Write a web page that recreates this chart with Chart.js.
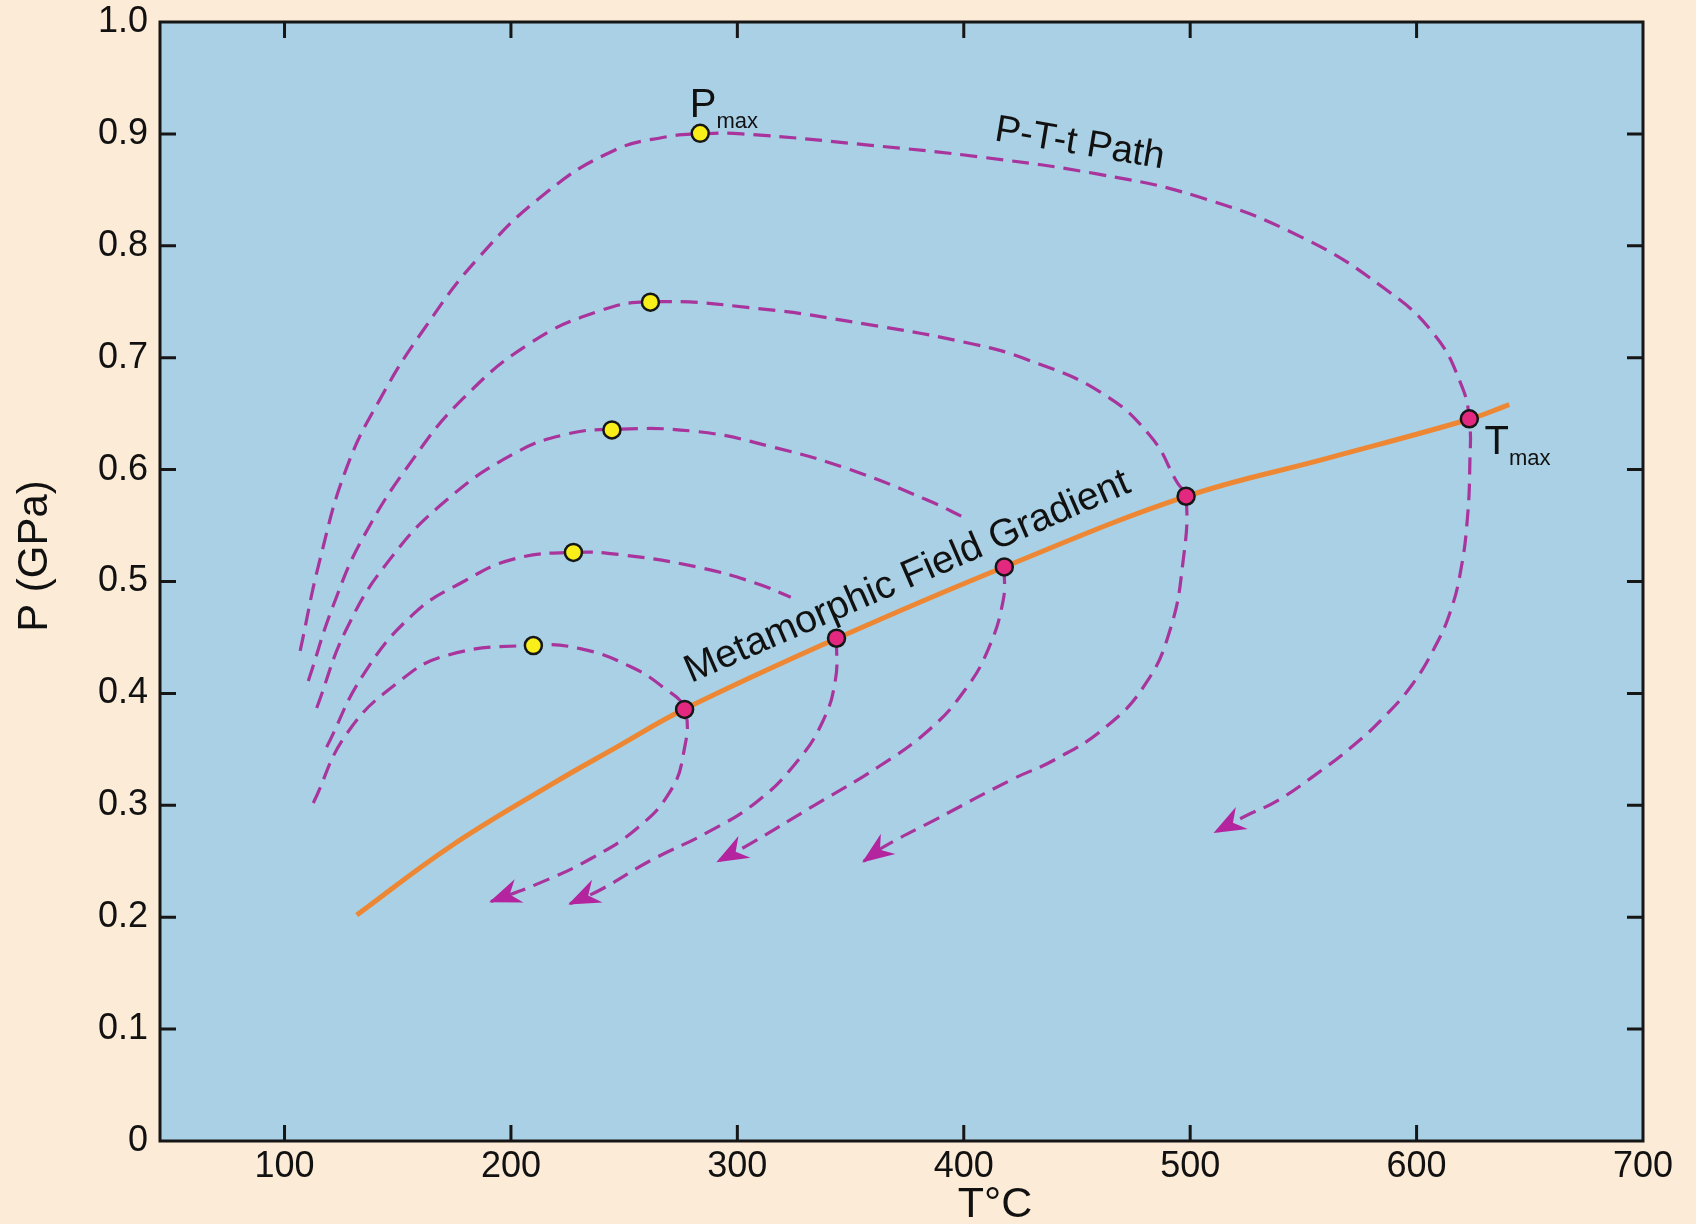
<!DOCTYPE html>
<html><head><meta charset="utf-8">
<script src="https://cdn.jsdelivr.net/npm/chart.js@4.4.1/dist/chart.umd.min.js"></script>
<style>html,body{margin:0;padding:0;background:#FCEBD6;overflow:hidden}#wrap{width:1696px;height:1224px}</style>
</head><body><div id="wrap"><canvas id="c" width="1696" height="1224"></canvas></div>
<script>
// ---- tick labels ----
const xTicks = [100, 200, 300, 400, 500, 600, 700];
const yTicks = [0, 0.1, 0.2, 0.3, 0.4, 0.5, 0.6, 0.7, 0.8, 0.9, 1.0];
const yTickLabels = ['0', '0.1', '0.2', '0.3', '0.4', '0.5', '0.6', '0.7', '0.8', '0.9', '1.0'];

// ---- metamorphic field gradient (orange) ----
const gradientT = [131.9, 173.1, 217.3, 246.7, 276.7, 343.8, 417.9, 498.2, 560.4, 623.3, 640.9];
const gradientP = [0.202, 0.263, 0.318, 0.352, 0.386, 0.449, 0.513, 0.576, 0.610, 0.645, 0.658];

// ---- P-T-t paths (dashed); null = break in the path ----
const pathA_T = [106.9, 115.7, 127.5, 142.2, 161.4, 186.4, 215.9, 245.3, 267.5, 283.6, 302.0, 357.9, 408.6, 459.4, 503.3, 548.9, 585.7, 607.7, 619.7, 623.3, 623.5, 622.5, 619.7, 614.9, 607.7, 598.1, 586.2, 571.8, 555.1, 538.4, 524.0, 511.1];
const pathA_P = [0.438, 0.520, 0.602, 0.663, 0.725, 0.791, 0.848, 0.885, 0.897, 0.900, 0.900, 0.890, 0.879, 0.864, 0.844, 0.808, 0.762, 0.721, 0.676, 0.645, 0.604, 0.558, 0.512, 0.473, 0.440, 0.408, 0.380, 0.353, 0.327, 0.304, 0.290, 0.276];

const pathB_T = [110.5, 121.6, 134.9, 157.0, 179.1, 208.5, 238.0, 261.6, 308.9, 356.7, 404.5, 428.4, 460.5, 482.4, 494.4, 498.2, 496.8, 491.0, 480.1, 462.8, 440.4, 421.2, 387.3, 364.8, 355.8];
const pathB_P = [0.411, 0.479, 0.540, 0.610, 0.664, 0.713, 0.741, 0.750, 0.744, 0.730, 0.712, 0.698, 0.669, 0.630, 0.588, 0.576, 0.517, 0.456, 0.408, 0.370, 0.341, 0.323, 0.287, 0.263, 0.250];

const pathC_T = [114.2, 127.5, 146.6, 171.7, 201.1, 223.2, 244.6, 282.1, 315.9, 349.8, 383.6, 401.4, null, 417.9, 417.4, 410.7, 400.5, 385.0, 362.0, 334.0, 306.0, 291.5];
const pathC_P = [0.387, 0.458, 0.520, 0.573, 0.614, 0.631, 0.636, 0.634, 0.620, 0.600, 0.573, 0.556, null, 0.513, 0.483, 0.439, 0.403, 0.368, 0.334, 0.300, 0.266, 0.250];

const pathD_T = [118.6, 134.9, 157.0, 179.1, 201.1, 227.6, 248.2, 282.1, 307.5, 323.6, null, 343.8, 343.3, 337.5, 325.5, 308.5, 287.0, 262.0, 240.0, 226.1];
const pathD_P = [0.352, 0.417, 0.471, 0.500, 0.520, 0.526, 0.524, 0.513, 0.499, 0.486, null, 0.449, 0.412, 0.374, 0.337, 0.303, 0.276, 0.251, 0.225, 0.212];

const pathE_T = [112.7, 127.5, 149.6, 171.7, 209.9, 230.6, 252.7, 267.5, 276.7, 276.2, 270.2, 256.0, 235.0, 212.0, 191.2];
const pathE_P = [0.302, 0.364, 0.409, 0.434, 0.443, 0.440, 0.424, 0.405, 0.386, 0.346, 0.312, 0.280, 0.252, 0.230, 0.214];

// ---- markers ----
const pmaxT = [283.6, 261.6, 244.6, 227.6, 209.9];
const pmaxP = [0.9005, 0.7496, 0.6355, 0.526, 0.4428];
const tmaxT = [623.3, 498.2, 417.9, 343.8, 276.7];
const tmaxP = [0.6454, 0.5762, 0.513, 0.4493, 0.3857];

const FONT = "'Liberation Sans', Arial, Helvetica, sans-serif";
const DASH_COLOR = '#A8349C';
const ARROW_COLOR = '#B3249E';

function pts(T, P) { return T.map((t, i) => ({ x: t, y: P[i] })); }

const pathSets = [[pathA_T, pathA_P], [pathB_T, pathB_P], [pathC_T, pathC_P], [pathD_T, pathD_P], [pathE_T, pathE_P]];

const datasets = [];
datasets.push({ label: 'Pmax', data: pts(pmaxT, pmaxP), pointRadius: 8.5, pointBackgroundColor: '#F7EE1A', pointBorderColor: '#161616', pointBorderWidth: 2.5, showLine: false, order: 0 });
datasets.push({ label: 'Tmax', data: pts(tmaxT, tmaxP), pointRadius: 8.5, pointBackgroundColor: '#E3287F', pointBorderColor: '#161616', pointBorderWidth: 2.5, showLine: false, order: 0 });
pathSets.forEach((p, i) => {
  datasets.push({ label: 'path' + i, isPath: true, data: pts(p[0], p[1]), showLine: true, pointRadius: 0, borderColor: DASH_COLOR, borderWidth: 3.2, borderDash: [17, 9], tension: 0.45, spanGaps: false, fill: false, order: 1 });
});
datasets.push({ label: 'gradient', data: pts(gradientT, gradientP), showLine: true, pointRadius: 0, borderColor: '#EE8733', borderWidth: 5, tension: 0.4, fill: false, order: 2 });

const decor = {
  id: 'decor',
  beforeDraw(chart) {
    const { ctx, chartArea: a } = chart;
    ctx.save();
    ctx.fillStyle = '#FCEBD6';
    ctx.fillRect(0, 0, chart.width, chart.height);
    ctx.fillStyle = '#A9D0E4';
    ctx.fillRect(a.left, a.top, a.right - a.left, a.bottom - a.top);
    ctx.restore();
  },
  afterDatasetsDraw(chart) {
    const { ctx, scales: { x, y } } = chart;
    chart.data.datasets.forEach((ds) => {
      if (!ds.isPath) return;
      const d = ds.data;
      const tip = d[d.length - 1], prev = d[d.length - 2];
      const tx = x.getPixelForValue(tip.x), ty = y.getPixelForValue(tip.y);
      const px = x.getPixelForValue(prev.x), py = y.getPixelForValue(prev.y);
      const ang = Math.atan2(ty - py, tx - px);
      ctx.save();
      ctx.translate(tx, ty);
      ctx.rotate(ang);
      ctx.beginPath();
      ctx.moveTo(2, 0);
      ctx.lineTo(-30, -12.5);
      ctx.lineTo(-20, 0);
      ctx.lineTo(-30, 12.5);
      ctx.closePath();
      ctx.fillStyle = ARROW_COLOR;
      ctx.fill();
      ctx.restore();
    });
    ctx.save();
    ctx.fillStyle = '#111';
    ctx.save();
    ctx.translate(x.getPixelForValue(451.2), y.getPixelForValue(0.891));
    ctx.rotate(9.5 * Math.PI / 180);
    ctx.font = '38px ' + FONT;
    ctx.textAlign = 'center'; ctx.textBaseline = 'middle';
    ctx.fillText('P-T-t Path', 0, 0);
    ctx.restore();
    ctx.save();
    ctx.translate(x.getPixelForValue(377.0), y.getPixelForValue(0.495));
    ctx.rotate(-23.5 * Math.PI / 180);
    ctx.font = '39px ' + FONT;
    ctx.textAlign = 'center'; ctx.textBaseline = 'alphabetic';
    ctx.fillText('Metamorphic Field Gradient', 0, 0);
    ctx.restore();
    ctx.textAlign = 'left'; ctx.textBaseline = 'alphabetic';
    let lx = x.getPixelForValue(279.0), ly = y.getPixelForValue(0.9155);
    ctx.font = '40px ' + FONT;
    ctx.fillText('P', lx, ly);
    let w = ctx.measureText('P').width;
    ctx.font = '22px ' + FONT;
    ctx.fillText('max', lx + w, ly + 11);
    lx = x.getPixelForValue(630.0); ly = y.getPixelForValue(0.614);
    ctx.font = '40px ' + FONT;
    ctx.fillText('T', lx, ly);
    w = ctx.measureText('T').width;
    ctx.font = '22px ' + FONT;
    ctx.fillText('max', lx + w, ly + 11);
    ctx.restore();
  },
  afterDraw(chart) {
    const { ctx, chartArea: a, scales: { x, y } } = chart;
    ctx.save();
    ctx.strokeStyle = '#161616';
    ctx.lineWidth = 3;
    ctx.strokeRect(a.left, a.top, a.right - a.left, a.bottom - a.top);
    const TL = 16;
    ctx.beginPath();
    xTicks.forEach(v => {
      const px = x.getPixelForValue(v);
      if (px <= a.left + 2 || px >= a.right - 2) return;
      ctx.moveTo(px, a.bottom); ctx.lineTo(px, a.bottom - TL);
      ctx.moveTo(px, a.top); ctx.lineTo(px, a.top + TL);
    });
    yTicks.forEach(v => {
      const py = y.getPixelForValue(v);
      if (py <= a.top + 2 || py >= a.bottom - 2) return;
      ctx.moveTo(a.left, py); ctx.lineTo(a.left + TL, py);
      ctx.moveTo(a.right, py); ctx.lineTo(a.right - TL, py);
    });
    ctx.stroke();
    ctx.fillStyle = '#111';
    ctx.font = '42px ' + FONT;
    ctx.textAlign = 'center'; ctx.textBaseline = 'middle';
    ctx.save();
    ctx.translate(35, 556);
    ctx.rotate(-Math.PI / 2);
    ctx.fillText('P (GPa)', 0, 0);
    ctx.restore();
    ctx.font = '43px ' + FONT;
    ctx.textBaseline = 'alphabetic';
    ctx.fillText('T\u00B0C', 995, 1217);
    ctx.restore();
  }
};

new Chart(document.getElementById('c'), {
  type: 'line',
  data: { datasets },
  options: {
    responsive: false,
    animation: false,
    devicePixelRatio: 1,
    layout: { padding: { top: 22, right: 53, left: 0, bottom: 0 } },
    plugins: { legend: { display: false }, tooltip: { enabled: false } },
    scales: {
      x: {
        type: 'linear', min: 45, max: 700,
        afterBuildTicks: s => { s.ticks = xTicks.map(v => ({ value: v })); },
        afterFit: s => { s.height = 83; s.paddingLeft = 0; s.paddingRight = 0; },
        grid: { display: false, drawTicks: false },
        border: { display: false },
        ticks: { autoSkip: false, maxRotation: 0, padding: 8, color: '#111', font: { family: FONT, size: 36, lineHeight: 1 }, callback: v => String(v) }
      },
      y: {
        type: 'linear', min: 0, max: 1,
        afterBuildTicks: s => { s.ticks = yTicks.map(v => ({ value: v })); },
        afterFit: s => { s.width = 160; s.paddingTop = 0; s.paddingBottom = 0; },
        grid: { display: false, drawTicks: false },
        border: { display: false },
        ticks: { autoSkip: false, padding: 12, color: '#111', font: { family: FONT, size: 36, lineHeight: 1 }, callback: (v, i) => yTickLabels[i] }
      }
    }
  },
  plugins: [decor]
});
</script>
</body></html>
